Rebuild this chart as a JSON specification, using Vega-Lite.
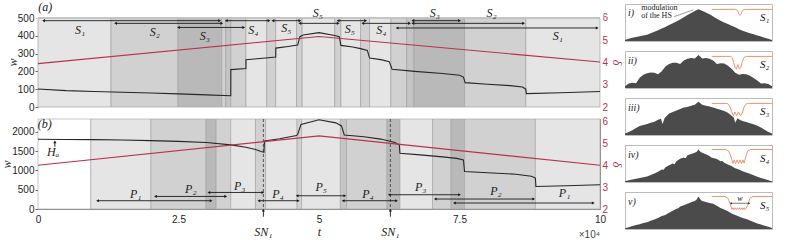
{
"$schema":"https://vega.github.io/schema/vega-lite/v6.json",
"background":"white",
"padding":{"left":0,"top":0,"right":0,"bottom":0},
"spacing":0,
"config":{"view":{"stroke":"#8f8f8f","strokeWidth":1},"axis":{"grid":false},"font":"Liberation Sans"},
"datasets":{
"regA":[{"t":0,"t2":1.30,"s":"L"},{"t":1.30,"t2":2.49,"s":"M"},{"t":2.49,"t2":3.27,"s":"D"},{"t":3.27,"t2":3.34,"s":"M"},{"t":3.34,"t2":3.43,"s":"DM"},{"t":3.43,"t2":3.70,"s":"M"},{"t":3.70,"t2":4.07,"s":"L"},{"t":4.07,"t2":4.23,"s":"M"},{"t":4.23,"t2":4.60,"s":"L"},{"t":4.60,"t2":4.70,"s":"M"},{"t":4.70,"t2":5.28,"s":"L"},{"t":5.28,"t2":5.39,"s":"M"},{"t":5.39,"t2":5.74,"s":"L"},{"t":5.74,"t2":5.90,"s":"M"},{"t":5.90,"t2":6.28,"s":"L"},{"t":6.28,"t2":6.56,"s":"M"},{"t":6.56,"t2":6.69,"s":"DM"},{"t":6.69,"t2":7.59,"s":"D"},{"t":7.59,"t2":8.68,"s":"M"},{"t":8.68,"t2":10,"s":"L"}],
"regB":[{"t":0,"t2":0.94,"s":"W"},{"t":0.94,"t2":2.01,"s":"L"},{"t":2.01,"t2":2.99,"s":"M"},{"t":2.99,"t2":3.17,"s":"D"},{"t":3.17,"t2":3.43,"s":"M"},{"t":3.43,"t2":3.87,"s":"L"},{"t":3.87,"t2":4.05,"s":"M"},{"t":4.05,"t2":4.61,"s":"L"},{"t":4.61,"t2":4.69,"s":"M"},{"t":4.69,"t2":5.38,"s":"L"},{"t":5.38,"t2":5.49,"s":"DM"},{"t":5.49,"t2":6.21,"s":"M"},{"t":6.21,"t2":6.44,"s":"D"},{"t":6.44,"t2":7.02,"s":"L"},{"t":7.02,"t2":7.35,"s":"M"},{"t":7.35,"t2":7.59,"s":"D"},{"t":7.59,"t2":8.85,"s":"M"},{"t":8.85,"t2":10,"s":"L"}],
"bandD":[{"k":"cover","t":-0.06,"t2":10.06,"d":6.33},{"k":"edge","t":0,"t2":10,"d":6}],
"labTop":[{"t":0.13,"d":6.5,"txt":"(a)"},{"t":4.98,"d":6.24,"txt":"S₅"},{"t":7.06,"d":6.24,"txt":"S₃"},{"t":8.07,"d":6.24,"txt":"S₂"}],
"curveA":[{"t":0,"w":101},{"t":0.5,"w":92},{"t":1,"w":87},{"t":1.5,"w":83},{"t":2,"w":79},{"t":2.5,"w":74},{"t":3,"w":68},{"t":3.43,"w":63},{"t":3.431,"w":210},{"t":3.7,"w":216},{"t":3.701,"w":266},{"t":4.0,"w":274},{"t":4.23,"w":281},{"t":4.231,"w":331},{"t":4.45,"w":340},{"t":4.62,"w":348},{"t":4.66,"w":395},{"t":4.72,"w":405},{"t":5,"w":418},{"t":5.28,"w":402},{"t":5.36,"w":395},{"t":5.39,"w":346},{"t":5.6,"w":337},{"t":5.74,"w":328},{"t":5.86,"w":318},{"t":5.9,"w":275},{"t":6.1,"w":266},{"t":6.25,"w":255},{"t":6.3,"w":212},{"t":6.7,"w":200},{"t":7.2,"w":188},{"t":7.5,"w":178},{"t":7.57,"w":168},{"t":7.6,"w":137},{"t":8.0,"w":128},{"t":8.4,"w":120},{"t":8.62,"w":112},{"t":8.68,"w":100},{"t":8.69,"w":75},{"t":9.3,"w":80},{"t":10,"w":87}],
"deltaA":[{"t":0,"d":3.95},{"t":5,"d":5.17},{"t":10,"d":4.02}],
"arrA":[{"t":0.10,"t2":3.23,"w":485},{"t":1.38,"t2":3.27,"w":470},{"t":2.50,"t2":3.66,"w":447},{"t":3.35,"t2":4.11,"w":485},{"t":4.18,"t2":4.66,"w":485},{"t":4.66,"t2":5.34,"w":470},{"t":5.34,"t2":5.83,"w":485},{"t":5.78,"t2":6.61,"w":470},{"t":6.67,"t2":7.50,"w":485},{"t":6.67,"t2":8.64,"w":470},{"t":6.39,"t2":9.95,"w":444}],
"labA":[{"t":0.75,"w":430,"txt":"S₁"},{"t":2.08,"w":423,"txt":"S₂"},{"t":2.97,"w":400,"txt":"S₃"},{"t":3.83,"w":430,"txt":"S₄"},{"t":4.42,"w":444,"txt":"S₅"},{"t":5.55,"w":440,"txt":"S₅"},{"t":6.11,"w":430,"txt":"S₄"},{"t":9.25,"w":400,"txt":"S₁"}],
"curveB":[{"t":0,"w":1804},{"t":0.5,"w":1800},{"t":1,"w":1795},{"t":1.5,"w":1785},{"t":2,"w":1770},{"t":2.5,"w":1750},{"t":3,"w":1720},{"t":3.43,"w":1660},{"t":3.7,"w":1600},{"t":3.87,"w":1540},{"t":3.97,"w":1490},{"t":4.02,"w":1470},{"t":4.03,"w":1760},{"t":4.3,"w":1820},{"t":4.6,"w":1900},{"t":4.62,"w":1930},{"t":4.68,"w":2190},{"t":5,"w":2310},{"t":5.3,"w":2230},{"t":5.4,"w":2150},{"t":5.45,"w":1915},{"t":5.8,"w":1870},{"t":6.1,"w":1810},{"t":6.35,"w":1720},{"t":6.43,"w":1657},{"t":6.44,"w":1443},{"t":6.8,"w":1400},{"t":7.2,"w":1350},{"t":7.45,"w":1310},{"t":7.57,"w":1270},{"t":7.59,"w":970},{"t":8.0,"w":940},{"t":8.5,"w":900},{"t":8.78,"w":850},{"t":8.85,"w":800},{"t":8.86,"w":583},{"t":9.4,"w":603},{"t":10,"w":626}],
"deltaB":[{"t":0,"d":3.99},{"t":5,"d":5.33},{"t":10,"d":3.99}],
"arrB":[{"t":1.06,"t2":3.08,"w":214},{"t":2.09,"t2":3.34,"w":325},{"t":3.04,"t2":4.00,"w":428},{"t":3.93,"t2":4.63,"w":214},{"t":4.61,"t2":5.46,"w":343},{"t":5.43,"t2":6.38,"w":214},{"t":6.25,"t2":7.50,"w":369},{"t":7.07,"t2":8.82,"w":258},{"t":7.41,"t2":9.88,"w":155}],
"labB":[{"t":0.12,"w":2200,"txt":"(b)"},{"t":0.27,"w":1480,"txt":"Hₐ"},{"t":1.74,"w":394,"txt":"P₁"},{"t":2.72,"w":523,"txt":"P₂"},{"t":3.59,"w":608,"txt":"P₃"},{"t":4.27,"w":394,"txt":"P₄"},{"t":5.04,"w":557,"txt":"P₅"},{"t":5.87,"w":394,"txt":"P₄"},{"t":6.81,"w":582,"txt":"P₃"},{"t":8.15,"w":472,"txt":"P₂"},{"t":9.37,"w":412,"txt":"P₁"},{"t":4.01,"w":-590,"txt":"SN₁"},{"t":6.27,"w":-590,"txt":"SN₁"}],
"upB":[{"t":0.30,"w":1740,"w2":1610},{"t":4.01,"w":-30,"w2":-200},{"t":6.27,"w":-30,"w2":-200}],
"hist":[
{"p":"i","xi":-10,"h":0.03},{"p":"i","xi":-9.5,"h":0.06},{"p":"i","xi":-9,"h":0.09},{"p":"i","xi":-8.5,"h":0.11},{"p":"i","xi":-8,"h":0.13},{"p":"i","xi":-7.5,"h":0.15},{"p":"i","xi":-7,"h":0.17},{"p":"i","xi":-6.5,"h":0.21},{"p":"i","xi":-6,"h":0.25},{"p":"i","xi":-5.5,"h":0.29},{"p":"i","xi":-5,"h":0.34},{"p":"i","xi":-4.5,"h":0.38},{"p":"i","xi":-4,"h":0.43},{"p":"i","xi":-3.5,"h":0.48},{"p":"i","xi":-3,"h":0.53},{"p":"i","xi":-2.5,"h":0.58},{"p":"i","xi":-2,"h":0.64},{"p":"i","xi":-1.5,"h":0.70},{"p":"i","xi":-1,"h":0.76},{"p":"i","xi":-0.5,"h":0.81},{"p":"i","xi":0,"h":0.86},{"p":"i","xi":0.5,"h":0.82},{"p":"i","xi":1,"h":0.77},{"p":"i","xi":1.5,"h":0.72},{"p":"i","xi":2,"h":0.66},{"p":"i","xi":2.5,"h":0.60},{"p":"i","xi":3,"h":0.55},{"p":"i","xi":3.5,"h":0.50},{"p":"i","xi":4,"h":0.46},{"p":"i","xi":4.5,"h":0.41},{"p":"i","xi":5,"h":0.37},{"p":"i","xi":5.5,"h":0.32},{"p":"i","xi":6,"h":0.28},{"p":"i","xi":6.5,"h":0.24},{"p":"i","xi":7,"h":0.21},{"p":"i","xi":7.5,"h":0.18},{"p":"i","xi":8,"h":0.15},{"p":"i","xi":8.5,"h":0.12},{"p":"i","xi":9,"h":0.09},{"p":"i","xi":9.5,"h":0.06},{"p":"i","xi":10,"h":0.03},
{"p":"ii","xi":-10,"h":0.05},{"p":"ii","xi":-9.5,"h":0.12},{"p":"ii","xi":-9,"h":0.14},{"p":"ii","xi":-8.5,"h":0.13},{"p":"ii","xi":-8,"h":0.28},{"p":"ii","xi":-7.5,"h":0.36},{"p":"ii","xi":-7,"h":0.40},{"p":"ii","xi":-6.5,"h":0.42},{"p":"ii","xi":-6,"h":0.41},{"p":"ii","xi":-5.5,"h":0.37},{"p":"ii","xi":-5,"h":0.45},{"p":"ii","xi":-4.5,"h":0.58},{"p":"ii","xi":-4,"h":0.65},{"p":"ii","xi":-3.5,"h":0.68},{"p":"ii","xi":-3,"h":0.68},{"p":"ii","xi":-2.5,"h":0.65},{"p":"ii","xi":-2,"h":0.74},{"p":"ii","xi":-1.5,"h":0.79},{"p":"ii","xi":-1,"h":0.81},{"p":"ii","xi":-0.5,"h":0.80},{"p":"ii","xi":0,"h":0.89},{"p":"ii","xi":0.5,"h":0.80},{"p":"ii","xi":1,"h":0.81},{"p":"ii","xi":1.5,"h":0.79},{"p":"ii","xi":2,"h":0.74},{"p":"ii","xi":2.5,"h":0.65},{"p":"ii","xi":3,"h":0.67},{"p":"ii","xi":3.5,"h":0.66},{"p":"ii","xi":4,"h":0.60},{"p":"ii","xi":4.5,"h":0.52},{"p":"ii","xi":5,"h":0.41},{"p":"ii","xi":5.5,"h":0.36},{"p":"ii","xi":6,"h":0.38},{"p":"ii","xi":6.5,"h":0.37},{"p":"ii","xi":7,"h":0.33},{"p":"ii","xi":7.5,"h":0.27},{"p":"ii","xi":8,"h":0.20},{"p":"ii","xi":8.5,"h":0.12},{"p":"ii","xi":9,"h":0.13},{"p":"ii","xi":9.5,"h":0.11},{"p":"ii","xi":10,"h":0.05},
{"p":"iii","xi":-10,"h":0.04},{"p":"iii","xi":-9.5,"h":0.08},{"p":"iii","xi":-9,"h":0.13},{"p":"iii","xi":-8.5,"h":0.19},{"p":"iii","xi":-8,"h":0.24},{"p":"iii","xi":-7.5,"h":0.27},{"p":"iii","xi":-7,"h":0.30},{"p":"iii","xi":-6.5,"h":0.33},{"p":"iii","xi":-6,"h":0.36},{"p":"iii","xi":-5.5,"h":0.41},{"p":"iii","xi":-5.1,"h":0.44},{"p":"iii","xi":-4.9,"h":0.30},{"p":"iii","xi":-4.6,"h":0.46},{"p":"iii","xi":-4,"h":0.58},{"p":"iii","xi":-3.5,"h":0.62},{"p":"iii","xi":-3,"h":0.66},{"p":"iii","xi":-2.5,"h":0.70},{"p":"iii","xi":-2,"h":0.74},{"p":"iii","xi":-1.5,"h":0.76},{"p":"iii","xi":-1,"h":0.79},{"p":"iii","xi":-0.5,"h":0.82},{"p":"iii","xi":0,"h":0.90},{"p":"iii","xi":0.5,"h":0.82},{"p":"iii","xi":1,"h":0.79},{"p":"iii","xi":1.5,"h":0.77},{"p":"iii","xi":2,"h":0.74},{"p":"iii","xi":2.5,"h":0.71},{"p":"iii","xi":3,"h":0.68},{"p":"iii","xi":3.5,"h":0.65},{"p":"iii","xi":4,"h":0.60},{"p":"iii","xi":4.5,"h":0.52},{"p":"iii","xi":4.8,"h":0.47},{"p":"iii","xi":5.0,"h":0.33},{"p":"iii","xi":5.3,"h":0.45},{"p":"iii","xi":5.6,"h":0.41},{"p":"iii","xi":6,"h":0.38},{"p":"iii","xi":6.5,"h":0.35},{"p":"iii","xi":7,"h":0.32},{"p":"iii","xi":7.5,"h":0.29},{"p":"iii","xi":8,"h":0.25},{"p":"iii","xi":8.5,"h":0.20},{"p":"iii","xi":9,"h":0.14},{"p":"iii","xi":9.5,"h":0.08},{"p":"iii","xi":10,"h":0.04},
{"p":"iv","xi":-10,"h":0.02},{"p":"iv","xi":-9.5,"h":0.05},{"p":"iv","xi":-9,"h":0.07},{"p":"iv","xi":-8.5,"h":0.09},{"p":"iv","xi":-8,"h":0.11},{"p":"iv","xi":-7.5,"h":0.13},{"p":"iv","xi":-7,"h":0.15},{"p":"iv","xi":-6.5,"h":0.19},{"p":"iv","xi":-6,"h":0.23},{"p":"iv","xi":-5.5,"h":0.28},{"p":"iv","xi":-5,"h":0.34},{"p":"iv","xi":-4.75,"h":0.33},{"p":"iv","xi":-4.5,"h":0.40},{"p":"iv","xi":-4,"h":0.45},{"p":"iv","xi":-3.5,"h":0.50},{"p":"iv","xi":-3.25,"h":0.48},{"p":"iv","xi":-3,"h":0.56},{"p":"iv","xi":-2.5,"h":0.63},{"p":"iv","xi":-2,"h":0.66},{"p":"iv","xi":-1.75,"h":0.64},{"p":"iv","xi":-1.5,"h":0.72},{"p":"iv","xi":-1,"h":0.76},{"p":"iv","xi":-0.5,"h":0.79},{"p":"iv","xi":-0.25,"h":0.82},{"p":"iv","xi":0,"h":0.88},{"p":"iv","xi":0.25,"h":0.82},{"p":"iv","xi":0.5,"h":0.79},{"p":"iv","xi":1,"h":0.75},{"p":"iv","xi":1.5,"h":0.70},{"p":"iv","xi":1.75,"h":0.66},{"p":"iv","xi":2,"h":0.65},{"p":"iv","xi":2.5,"h":0.62},{"p":"iv","xi":3,"h":0.56},{"p":"iv","xi":3.25,"h":0.57},{"p":"iv","xi":3.5,"h":0.52},{"p":"iv","xi":4,"h":0.47},{"p":"iv","xi":4.5,"h":0.43},{"p":"iv","xi":4.75,"h":0.40},{"p":"iv","xi":5,"h":0.37},{"p":"iv","xi":5.5,"h":0.34},{"p":"iv","xi":6,"h":0.29},{"p":"iv","xi":6.5,"h":0.26},{"p":"iv","xi":7,"h":0.22},{"p":"iv","xi":7.5,"h":0.18},{"p":"iv","xi":8,"h":0.14},{"p":"iv","xi":8.5,"h":0.11},{"p":"iv","xi":9,"h":0.08},{"p":"iv","xi":9.5,"h":0.05},{"p":"iv","xi":10,"h":0.02},
{"p":"v","xi":-10,"h":0.02},{"p":"v","xi":-9.5,"h":0.05},{"p":"v","xi":-9,"h":0.08},{"p":"v","xi":-8.5,"h":0.11},{"p":"v","xi":-8,"h":0.13},{"p":"v","xi":-7.5,"h":0.16},{"p":"v","xi":-7,"h":0.18},{"p":"v","xi":-6.5,"h":0.22},{"p":"v","xi":-6,"h":0.26},{"p":"v","xi":-5.5,"h":0.30},{"p":"v","xi":-5,"h":0.35},{"p":"v","xi":-4.5,"h":0.38},{"p":"v","xi":-4.25,"h":0.41},{"p":"v","xi":-4,"h":0.44},{"p":"v","xi":-3.5,"h":0.49},{"p":"v","xi":-3,"h":0.55},{"p":"v","xi":-2.75,"h":0.56},{"p":"v","xi":-2.5,"h":0.61},{"p":"v","xi":-2,"h":0.64},{"p":"v","xi":-1.5,"h":0.68},{"p":"v","xi":-1,"h":0.72},{"p":"v","xi":-0.5,"h":0.76},{"p":"v","xi":-0.25,"h":0.80},{"p":"v","xi":0,"h":0.88},{"p":"v","xi":0.25,"h":0.80},{"p":"v","xi":0.5,"h":0.76},{"p":"v","xi":1,"h":0.73},{"p":"v","xi":1.5,"h":0.70},{"p":"v","xi":2,"h":0.68},{"p":"v","xi":2.5,"h":0.63},{"p":"v","xi":3,"h":0.57},{"p":"v","xi":3.5,"h":0.53},{"p":"v","xi":4,"h":0.48},{"p":"v","xi":4.5,"h":0.42},{"p":"v","xi":5,"h":0.38},{"p":"v","xi":5.5,"h":0.34},{"p":"v","xi":6,"h":0.30},{"p":"v","xi":6.5,"h":0.27},{"p":"v","xi":7,"h":0.23},{"p":"v","xi":7.5,"h":0.19},{"p":"v","xi":8,"h":0.15},{"p":"v","xi":8.5,"h":0.12},{"p":"v","xi":9,"h":0.09},{"p":"v","xi":9.5,"h":0.06},{"p":"v","xi":10,"h":0.03}
],
"ins":[
{"p":"i","xi":1.8,"f":-1.2},{"p":"i","xi":5.0,"f":-1.2},{"p":"i","xi":5.3,"f":-1.4},{"p":"i","xi":5.5,"f":-2.3},{"p":"i","xi":5.65,"f":-2.5},{"p":"i","xi":5.8,"f":-2.2},{"p":"i","xi":6.0,"f":-1.4},{"p":"i","xi":6.3,"f":-1.2},{"p":"i","xi":10,"f":-1.2},
{"p":"ii","xi":1.8,"f":-1.2},{"p":"ii","xi":4.4,"f":-1.2},{"p":"ii","xi":4.6,"f":-1.5},{"p":"ii","xi":4.8,"f":-2.6},{"p":"ii","xi":5.0,"f":-3.8},{"p":"ii","xi":5.15,"f":-4.0},{"p":"ii","xi":5.35,"f":-3.0},{"p":"ii","xi":5.55,"f":-4.0},{"p":"ii","xi":5.75,"f":-3.7},{"p":"ii","xi":5.95,"f":-2.4},{"p":"ii","xi":6.2,"f":-1.4},{"p":"ii","xi":6.5,"f":-1.2},{"p":"ii","xi":10,"f":-1.2},
{"p":"iii","xi":1.8,"f":-1.2},{"p":"iii","xi":3.9,"f":-1.2},{"p":"iii","xi":4.2,"f":-1.6},{"p":"iii","xi":4.5,"f":-3.0},{"p":"iii","xi":4.75,"f":-3.9},{"p":"iii","xi":4.95,"f":-3.1},{"p":"iii","xi":5.2,"f":-3.9},{"p":"iii","xi":5.45,"f":-3.1},{"p":"iii","xi":5.7,"f":-3.9},{"p":"iii","xi":5.95,"f":-3.4},{"p":"iii","xi":6.2,"f":-2.0},{"p":"iii","xi":6.5,"f":-1.3},{"p":"iii","xi":6.8,"f":-1.2},{"p":"iii","xi":10,"f":-1.2},
{"p":"iv","xi":1.8,"f":-1.0},{"p":"iv","xi":3.7,"f":-1.0},{"p":"iv","xi":4.1,"f":-1.3},{"p":"iv","xi":4.4,"f":-2.5},{"p":"iv","xi":4.7,"f":-4.1},{"p":"iv","xi":4.85,"f":-3.3},{"p":"iv","xi":5.05,"f":-4.1},{"p":"iv","xi":5.25,"f":-3.3},{"p":"iv","xi":5.45,"f":-4.1},{"p":"iv","xi":5.65,"f":-3.3},{"p":"iv","xi":5.85,"f":-4.1},{"p":"iv","xi":6.05,"f":-3.3},{"p":"iv","xi":6.2,"f":-4.0},{"p":"iv","xi":6.45,"f":-2.5},{"p":"iv","xi":6.7,"f":-1.3},{"p":"iv","xi":7.1,"f":-1.0},{"p":"iv","xi":10,"f":-1.0},
{"p":"v","xi":1.8,"f":-1.0},{"p":"v","xi":3.6,"f":-1.0},{"p":"v","xi":4.0,"f":-1.4},{"p":"v","xi":4.3,"f":-2.6},{"p":"v","xi":4.55,"f":-3.9},{"p":"v","xi":4.7,"f":-3.5},{"p":"v","xi":4.85,"f":-3.9},{"p":"v","xi":5.0,"f":-3.5},{"p":"v","xi":5.15,"f":-3.9},{"p":"v","xi":5.3,"f":-3.5},{"p":"v","xi":5.45,"f":-3.9},{"p":"v","xi":5.6,"f":-3.5},{"p":"v","xi":5.75,"f":-3.9},{"p":"v","xi":5.9,"f":-3.5},{"p":"v","xi":6.05,"f":-3.9},{"p":"v","xi":6.2,"f":-3.5},{"p":"v","xi":6.35,"f":-3.9},{"p":"v","xi":6.5,"f":-3.6},{"p":"v","xi":6.75,"f":-2.6},{"p":"v","xi":7.0,"f":-1.4},{"p":"v","xi":7.4,"f":-1.0},{"p":"v","xi":10,"f":-1.0}
],
"roman":[{"p":"i","xi":-9.6,"h":0.76,"txt":"i)"},{"p":"ii","xi":-9.6,"h":0.74,"txt":"ii)"},{"p":"iii","xi":-9.6,"h":0.74,"txt":"iii)"},{"p":"iv","xi":-9.6,"h":0.74,"txt":"iv)"},{"p":"v","xi":-9.6,"h":0.74,"txt":"v)"}],
"note":[{"p":"i","xi":-7.8,"h":0.90,"txt":"modulation"},{"p":"i","xi":-7.8,"h":0.68,"txt":"of the HS"}],
"lead":[{"p":"i","xi":-3.3,"xi2":-0.7,"h":0.66,"h2":0.84}],
"slab":[{"p":"i","xi":9.0,"f":-3.0,"txt":"S₁"},{"p":"ii","xi":9.0,"f":-3.2,"txt":"S₂"},{"p":"iii","xi":9.0,"f":-3.2,"txt":"S₃"},{"p":"iv","xi":9.0,"f":-3.2,"txt":"S₄"},{"p":"v","xi":9.0,"f":-3.0,"txt":"S₅"}]
},
"hconcat":[
{"vconcat":[
{
"width":562,"height":103,"view":{"stroke":null},
"encoding":{"x":{"field":"t","type":"quantitative","scale":{"domain":[0,10],"nice":false,"zero":false},"axis":null}},
"layer":[
{"data":{"name":"regA"},"mark":{"type":"rect","stroke":"#a3a3a3","strokeWidth":0.7},"encoding":{"x2":{"field":"t2"},"fill":{"field":"s","type":"nominal","scale":{"domain":["W","L","M","DM","D"],"range":["#ffffff","#e5e5e5","#d1d1d1","#c4c4c4","#b9b9b9"]},"legend":null}}},
{"layer":[
{"data":{"name":"curveA"},"mark":{"type":"line","color":"#262626","strokeWidth":1.1}},
{"data":{"name":"arrA"},"mark":{"type":"rule","color":"#1a1a1a","strokeWidth":0.9},"encoding":{"x2":{"field":"t2"}}},
{"data":{"name":"arrA"},"transform":[{"fold":["t","t2"],"as":["end","t"]}],"mark":{"type":"point","filled":true,"size":10,"color":"#1a1a1a","opacity":1},"encoding":{"shape":{"field":"end","type":"nominal","scale":{"domain":["t","t2"],"range":["triangle-left","triangle-right"]},"legend":null}}},
{"data":{"name":"labA"},"mark":{"type":"text","font":"Liberation Serif","fontStyle":"italic","fontSize":12,"color":"#1a1a1a"},"encoding":{"text":{"field":"txt"}}}
],
"encoding":{"y":{"field":"w","type":"quantitative","scale":{"domain":[0,578.7],"nice":false,"zero":false},"axis":{"values":[0,100,200,300,400,500],"format":"d","title":"w","titleY":58,"tickSize":3,"labelPadding":1,"labelFont":"Liberation Sans","labelFontSize":10,"labelColor":"#262626","tickColor":"#666","domain":false,"grid":false,"titleFont":"Liberation Serif","titleFontStyle":"italic","titleFontWeight":"normal","titleFontSize":12,"titleColor":"#262626","titlePadding":-2}}}
},
{"layer":[
{"data":{"name":"deltaA"},"mark":{"type":"line","color":"#b8324f","strokeWidth":1.1}},
{"data":{"name":"bandD"},"transform":[{"filter":"datum.k=='cover'"}],"mark":{"type":"rule","color":"#ffffff","strokeWidth":16,"strokeCap":"butt"},"encoding":{"x2":{"field":"t2"}}},
{"data":{"name":"bandD"},"transform":[{"filter":"datum.k=='edge'"}],"mark":{"type":"rule","color":"#8f8f8f","strokeWidth":1},"encoding":{"x2":{"field":"t2"}}},
{"data":{"name":"labTop"},"mark":{"type":"text","font":"Liberation Serif","fontStyle":"italic","fontSize":12,"color":"#1a1a1a"},"encoding":{"text":{"field":"txt"}}}
],
"encoding":{"y":{"field":"d","type":"quantitative","scale":{"domain":[2,6.629],"nice":false,"zero":false},"axis":{"orient":"right","values":[2,3,4,5,6],"title":"δ","titleY":58,"ticks":false,"labelPadding":2,"labelFont":"Liberation Sans","labelFontSize":10,"labelColor":"#b8324f","domain":false,"grid":false,"titleFont":"Liberation Serif","titleFontStyle":"italic","titleFontWeight":"normal","titleFontSize":12,"titleColor":"#b8324f","titlePadding":2}}}}
],
"resolve":{"scale":{"y":"independent"}}
},
{
"width":562,"height":90,
"encoding":{"x":{"field":"t","type":"quantitative","scale":{"domain":[0,10],"nice":false,"zero":false},"axis":{"values":[0,2.5,5,7.5,10],"labelExpr":"''+datum.value","labelFlush":false,"title":"t","ticks":false,"labelPadding":5,"labelFont":"Liberation Sans","labelFontSize":10,"labelColor":"#262626","domain":false,"grid":false,"titleFont":"Liberation Serif","titleFontStyle":"italic","titleFontWeight":"normal","titleFontSize":12,"titleColor":"#262626","titlePadding":2}}},
"layer":[
{"data":{"name":"regB"},"mark":{"type":"rect","stroke":"#a3a3a3","strokeWidth":0.6},"encoding":{"x2":{"field":"t2"},"fill":{"field":"s","type":"nominal","scale":{"domain":["W","L","M","DM","D"],"range":["#ffffff","#e5e5e5","#d1d1d1","#c4c4c4","#b9b9b9"]},"legend":null}}},
{"data":{"values":[{"t":4.01},{"t":6.27}]},"mark":{"type":"rule","color":"#333333","strokeWidth":0.8,"strokeDash":[3,2]}},
{"layer":[
{"data":{"name":"curveB"},"mark":{"type":"line","color":"#262626","strokeWidth":1.1}},
{"data":{"name":"arrB"},"mark":{"type":"rule","color":"#1a1a1a","strokeWidth":0.9},"encoding":{"x2":{"field":"t2"}}},
{"data":{"name":"arrB"},"transform":[{"fold":["t","t2"],"as":["end","t"]}],"mark":{"type":"point","filled":true,"size":10,"color":"#1a1a1a","opacity":1},"encoding":{"shape":{"field":"end","type":"nominal","scale":{"domain":["t","t2"],"range":["triangle-left","triangle-right"]},"legend":null}}},
{"data":{"name":"upB"},"mark":{"type":"rule","color":"#1a1a1a","strokeWidth":0.9},"encoding":{"y2":{"field":"w2"}}},
{"data":{"name":"upB"},"mark":{"type":"point","shape":"triangle-up","filled":true,"size":10,"color":"#1a1a1a","opacity":1}},
{"data":{"name":"labB"},"mark":{"type":"text","font":"Liberation Serif","fontStyle":"italic","fontSize":12,"color":"#1a1a1a"},"encoding":{"text":{"field":"txt"}}},
{"data":{"values":[{"t":10,"w":-670,"txt":"×10⁴"}]},"mark":{"type":"text","font":"Liberation Sans","fontSize":10,"align":"right","color":"#444444"},"encoding":{"text":{"field":"txt"}}}
],
"encoding":{"y":{"field":"w","type":"quantitative","scale":{"domain":[0,2330],"nice":false,"zero":false},"axis":{"values":[0,500,1000,1500,2000],"format":"d","title":"w","tickSize":3,"labelPadding":1,"labelFont":"Liberation Sans","labelFontSize":10,"labelColor":"#262626","tickColor":"#666","domain":false,"grid":false,"titleFont":"Liberation Serif","titleFontStyle":"italic","titleFontWeight":"normal","titleFontSize":12,"titleColor":"#262626","titlePadding":-2}}}
},
{"data":{"name":"deltaB"},"mark":{"type":"line","color":"#b8324f","strokeWidth":1.1},"encoding":{"y":{"field":"d","type":"quantitative","scale":{"domain":[2,6.1],"nice":false,"zero":false},"axis":{"orient":"right","values":[2,3,4,5,6],"title":"δ","ticks":false,"labelPadding":2,"labelFont":"Liberation Sans","labelFontSize":10,"labelColor":"#b8324f","domain":false,"grid":false,"titleFont":"Liberation Serif","titleFontStyle":"italic","titleFontWeight":"normal","titleFontSize":12,"titleColor":"#b8324f","titlePadding":2}}}}
],
"resolve":{"scale":{"y":"independent"}}
}
],"spacing":3},
{"vconcat":[
{
"width":147,"height":37,"view":{"stroke":"#bcbcbc"},
"encoding":{"x":{"field":"xi","type":"quantitative","scale":{"domain":[-10,10],"nice":false,"zero":false},"axis":null}},
"layer":[
{"layer":[
{"data":{"name":"hist"},"transform":[{"filter":"datum.p=='i'"}],"mark":{"type":"area","color":"#4b4b4b"}},
{"data":{"name":"roman"},"transform":[{"filter":"datum.p=='i'"}],"mark":{"type":"text","font":"Liberation Serif","fontStyle":"italic","fontSize":10,"align":"left","color":"#222222"},"encoding":{"text":{"field":"txt"}}},
{"data":{"name":"note"},"transform":[{"filter":"datum.p=='i'"}],"mark":{"type":"text","font":"Liberation Serif","fontSize":8,"align":"left","color":"#222222"},"encoding":{"text":{"field":"txt"}}},
{"data":{"name":"lead"},"mark":{"type":"rule","color":"#555555","strokeWidth":0.6},"encoding":{"x2":{"field":"xi2"},"y2":{"field":"h2"}}}
],"encoding":{"y":{"field":"h","type":"quantitative","scale":{"domain":[0,1],"nice":false,"zero":false},"axis":null}}},
{"layer":[
{"data":{"values":[{}]},"mark":{"type":"rect","fill":"white","stroke":"#b0b0b0","strokeWidth":0.6},"encoding":{"x":{"datum":1.8,"type":"quantitative","axis":null},"x2":{"datum":10},"y":{"datum":-0.25,"type":"quantitative","axis":null},"y2":{"datum":-4.4}}},
{"data":{"name":"ins"},"transform":[{"filter":"datum.p=='i'"}],"mark":{"type":"line","color":"#f2956c","strokeWidth":1}},
{"data":{"name":"slab"},"transform":[{"filter":"datum.p=='i'"}],"mark":{"type":"text","font":"Liberation Serif","fontStyle":"italic","fontSize":11,"color":"#111111"},"encoding":{"text":{"field":"txt"}}}
],"encoding":{"y":{"field":"f","type":"quantitative","scale":{"domain":[-8.2,0],"nice":false,"zero":false},"axis":{"orient":"right","values":[0,-5],"labelExpr":"datum.value==0?'10⁰':'10⁻⁵'","title":"F(ψ)","titleFont":"Liberation Serif","titleFontStyle":"italic","titleFontWeight":"normal","titleFontSize":7,"titleColor":"#555555","titlePadding":1,"labelFontSize":6,"labelColor":"#555555","labelPadding":1,"tickSize":2,"tickColor":"#888888","domain":false,"grid":false}}}}
],
"resolve":{"scale":{"y":"independent"}}
},
{
"width":147,"height":37,"view":{"stroke":"#bcbcbc"},
"encoding":{"x":{"field":"xi","type":"quantitative","scale":{"domain":[-10,10],"nice":false,"zero":false},"axis":null}},
"layer":[
{"layer":[
{"data":{"name":"hist"},"transform":[{"filter":"datum.p=='ii'"}],"mark":{"type":"area","color":"#4b4b4b"}},
{"data":{"name":"roman"},"transform":[{"filter":"datum.p=='ii'"}],"mark":{"type":"text","font":"Liberation Serif","fontStyle":"italic","fontSize":10,"align":"left","color":"#222222"},"encoding":{"text":{"field":"txt"}}}
],"encoding":{"y":{"field":"h","type":"quantitative","scale":{"domain":[0,1],"nice":false,"zero":false},"axis":null}}},
{"layer":[
{"data":{"values":[{}]},"mark":{"type":"rect","fill":"white","stroke":"#b0b0b0","strokeWidth":0.6},"encoding":{"x":{"datum":1.8,"type":"quantitative","axis":null},"x2":{"datum":10},"y":{"datum":-0.25,"type":"quantitative","axis":null},"y2":{"datum":-4.6}}},
{"data":{"name":"ins"},"transform":[{"filter":"datum.p=='ii'"}],"mark":{"type":"line","color":"#f2956c","strokeWidth":1}},
{"data":{"name":"slab"},"transform":[{"filter":"datum.p=='ii'"}],"mark":{"type":"text","font":"Liberation Serif","fontStyle":"italic","fontSize":11,"color":"#111111"},"encoding":{"text":{"field":"txt"}}}
],"encoding":{"y":{"field":"f","type":"quantitative","scale":{"domain":[-8.2,0],"nice":false,"zero":false},"axis":{"orient":"right","values":[0,-5],"labelExpr":"datum.value==0?'10⁰':'10⁻⁵'","title":"F(ψ)","titleFont":"Liberation Serif","titleFontStyle":"italic","titleFontWeight":"normal","titleFontSize":7,"titleColor":"#555555","titlePadding":1,"labelFontSize":6,"labelColor":"#555555","labelPadding":1,"tickSize":2,"tickColor":"#888888","domain":false,"grid":false}}}}
],
"resolve":{"scale":{"y":"independent"}}
},
{
"width":147,"height":37,"view":{"stroke":"#bcbcbc"},
"encoding":{"x":{"field":"xi","type":"quantitative","scale":{"domain":[-10,10],"nice":false,"zero":false},"axis":null}},
"layer":[
{"layer":[
{"data":{"name":"hist"},"transform":[{"filter":"datum.p=='iii'"}],"mark":{"type":"area","color":"#4b4b4b"}},
{"data":{"name":"roman"},"transform":[{"filter":"datum.p=='iii'"}],"mark":{"type":"text","font":"Liberation Serif","fontStyle":"italic","fontSize":10,"align":"left","color":"#222222"},"encoding":{"text":{"field":"txt"}}}
],"encoding":{"y":{"field":"h","type":"quantitative","scale":{"domain":[0,1],"nice":false,"zero":false},"axis":null}}},
{"layer":[
{"data":{"values":[{}]},"mark":{"type":"rect","fill":"white","stroke":"#b0b0b0","strokeWidth":0.6},"encoding":{"x":{"datum":1.8,"type":"quantitative","axis":null},"x2":{"datum":10},"y":{"datum":-0.25,"type":"quantitative","axis":null},"y2":{"datum":-4.6}}},
{"data":{"name":"ins"},"transform":[{"filter":"datum.p=='iii'"}],"mark":{"type":"line","color":"#f2956c","strokeWidth":1}},
{"data":{"name":"slab"},"transform":[{"filter":"datum.p=='iii'"}],"mark":{"type":"text","font":"Liberation Serif","fontStyle":"italic","fontSize":11,"color":"#111111"},"encoding":{"text":{"field":"txt"}}}
],"encoding":{"y":{"field":"f","type":"quantitative","scale":{"domain":[-8.2,0],"nice":false,"zero":false},"axis":{"orient":"right","values":[0,-5],"labelExpr":"datum.value==0?'10⁰':'10⁻⁵'","title":"F(ψ)","titleFont":"Liberation Serif","titleFontStyle":"italic","titleFontWeight":"normal","titleFontSize":7,"titleColor":"#555555","titlePadding":1,"labelFontSize":6,"labelColor":"#555555","labelPadding":1,"tickSize":2,"tickColor":"#888888","domain":false,"grid":false}}}}
],
"resolve":{"scale":{"y":"independent"}}
},
{
"width":147,"height":37,"view":{"stroke":"#bcbcbc"},
"encoding":{"x":{"field":"xi","type":"quantitative","scale":{"domain":[-10,10],"nice":false,"zero":false},"axis":null}},
"layer":[
{"layer":[
{"data":{"name":"hist"},"transform":[{"filter":"datum.p=='iv'"}],"mark":{"type":"area","color":"#4b4b4b"}},
{"data":{"name":"roman"},"transform":[{"filter":"datum.p=='iv'"}],"mark":{"type":"text","font":"Liberation Serif","fontStyle":"italic","fontSize":10,"align":"left","color":"#222222"},"encoding":{"text":{"field":"txt"}}}
],"encoding":{"y":{"field":"h","type":"quantitative","scale":{"domain":[0,1],"nice":false,"zero":false},"axis":null}}},
{"layer":[
{"data":{"values":[{}]},"mark":{"type":"rect","fill":"white","stroke":"#b0b0b0","strokeWidth":0.6},"encoding":{"x":{"datum":1.8,"type":"quantitative","axis":null},"x2":{"datum":10},"y":{"datum":-0.25,"type":"quantitative","axis":null},"y2":{"datum":-4.5}}},
{"data":{"name":"ins"},"transform":[{"filter":"datum.p=='iv'"}],"mark":{"type":"line","color":"#f2956c","strokeWidth":1}},
{"data":{"name":"slab"},"transform":[{"filter":"datum.p=='iv'"}],"mark":{"type":"text","font":"Liberation Serif","fontStyle":"italic","fontSize":11,"color":"#111111"},"encoding":{"text":{"field":"txt"}}}
],"encoding":{"y":{"field":"f","type":"quantitative","scale":{"domain":[-8.2,0],"nice":false,"zero":false},"axis":{"orient":"right","values":[0,-5],"labelExpr":"datum.value==0?'10⁰':'10⁻⁵'","title":"F(ψ)","titleFont":"Liberation Serif","titleFontStyle":"italic","titleFontWeight":"normal","titleFontSize":7,"titleColor":"#555555","titlePadding":1,"labelFontSize":6,"labelColor":"#555555","labelPadding":1,"tickSize":2,"tickColor":"#888888","domain":false,"grid":false}}}}
],
"resolve":{"scale":{"y":"independent"}}
},
{
"width":147,"height":37,"view":{"stroke":"#bcbcbc"},
"encoding":{"x":{"field":"xi","type":"quantitative","scale":{"domain":[-10,10],"nice":false,"zero":false},"axis":{"values":[-10,-5,0,5,10],"labelFlush":true,"labelFontSize":6,"labelColor":"#444444","tickSize":2,"tickColor":"#888888","labelPadding":1,"title":"ξ","titleFont":"Liberation Serif","titleFontStyle":"italic","titleFontWeight":"normal","titleFontSize":7,"titleColor":"#444444","titlePadding":0,"domain":false,"grid":false}}},
"layer":[
{"layer":[
{"data":{"name":"hist"},"transform":[{"filter":"datum.p=='v'"}],"mark":{"type":"area","color":"#4b4b4b"}},
{"data":{"name":"roman"},"transform":[{"filter":"datum.p=='v'"}],"mark":{"type":"text","font":"Liberation Serif","fontStyle":"italic","fontSize":10,"align":"left","color":"#222222"},"encoding":{"text":{"field":"txt"}}}
],"encoding":{"y":{"field":"h","type":"quantitative","scale":{"domain":[0,1],"nice":false,"zero":false},"axis":null}}},
{"layer":[
{"data":{"values":[{}]},"mark":{"type":"rect","fill":"white","stroke":"#b0b0b0","strokeWidth":0.6},"encoding":{"x":{"datum":1.8,"type":"quantitative","axis":null},"x2":{"datum":10},"y":{"datum":-0.25,"type":"quantitative","axis":null},"y2":{"datum":-5.4}}},
{"data":{"name":"ins"},"transform":[{"filter":"datum.p=='v'"}],"mark":{"type":"line","color":"#f2956c","strokeWidth":1}},
{"data":{"values":[{"xi":4.4,"xi2":6.9,"f":-2.5}]},"mark":{"type":"rule","color":"#222222","strokeWidth":0.6},"encoding":{"x2":{"field":"xi2"}}},
{"data":{"values":[{"xi":4.4,"xi2":6.9,"f":-2.5}]},"transform":[{"fold":["xi","xi2"],"as":["end","xi"]}],"mark":{"type":"point","filled":true,"size":5,"color":"#222222","opacity":1},"encoding":{"shape":{"field":"end","type":"nominal","scale":{"domain":["xi","xi2"],"range":["triangle-left","triangle-right"]},"legend":null}}},
{"data":{"values":[{"xi":5.65,"f":-1.5,"txt":"w"}]},"mark":{"type":"text","font":"Liberation Serif","fontStyle":"italic","fontSize":8,"color":"#111111"},"encoding":{"text":{"field":"txt"}}},
{"data":{"name":"slab"},"transform":[{"filter":"datum.p=='v'"}],"mark":{"type":"text","font":"Liberation Serif","fontStyle":"italic","fontSize":11,"color":"#111111"},"encoding":{"text":{"field":"txt"}}}
],"encoding":{"y":{"field":"f","type":"quantitative","scale":{"domain":[-8.2,0],"nice":false,"zero":false},"axis":{"orient":"right","values":[0,-5],"labelExpr":"datum.value==0?'10⁰':'10⁻⁵'","title":"F(ψ)","titleFont":"Liberation Serif","titleFontStyle":"italic","titleFontWeight":"normal","titleFontSize":7,"titleColor":"#555555","titlePadding":1,"labelFontSize":6,"labelColor":"#555555","labelPadding":1,"tickSize":2,"tickColor":"#888888","domain":false,"grid":false}}}}
],
"resolve":{"scale":{"y":"independent"}}
}
],"spacing":8}
]
}
